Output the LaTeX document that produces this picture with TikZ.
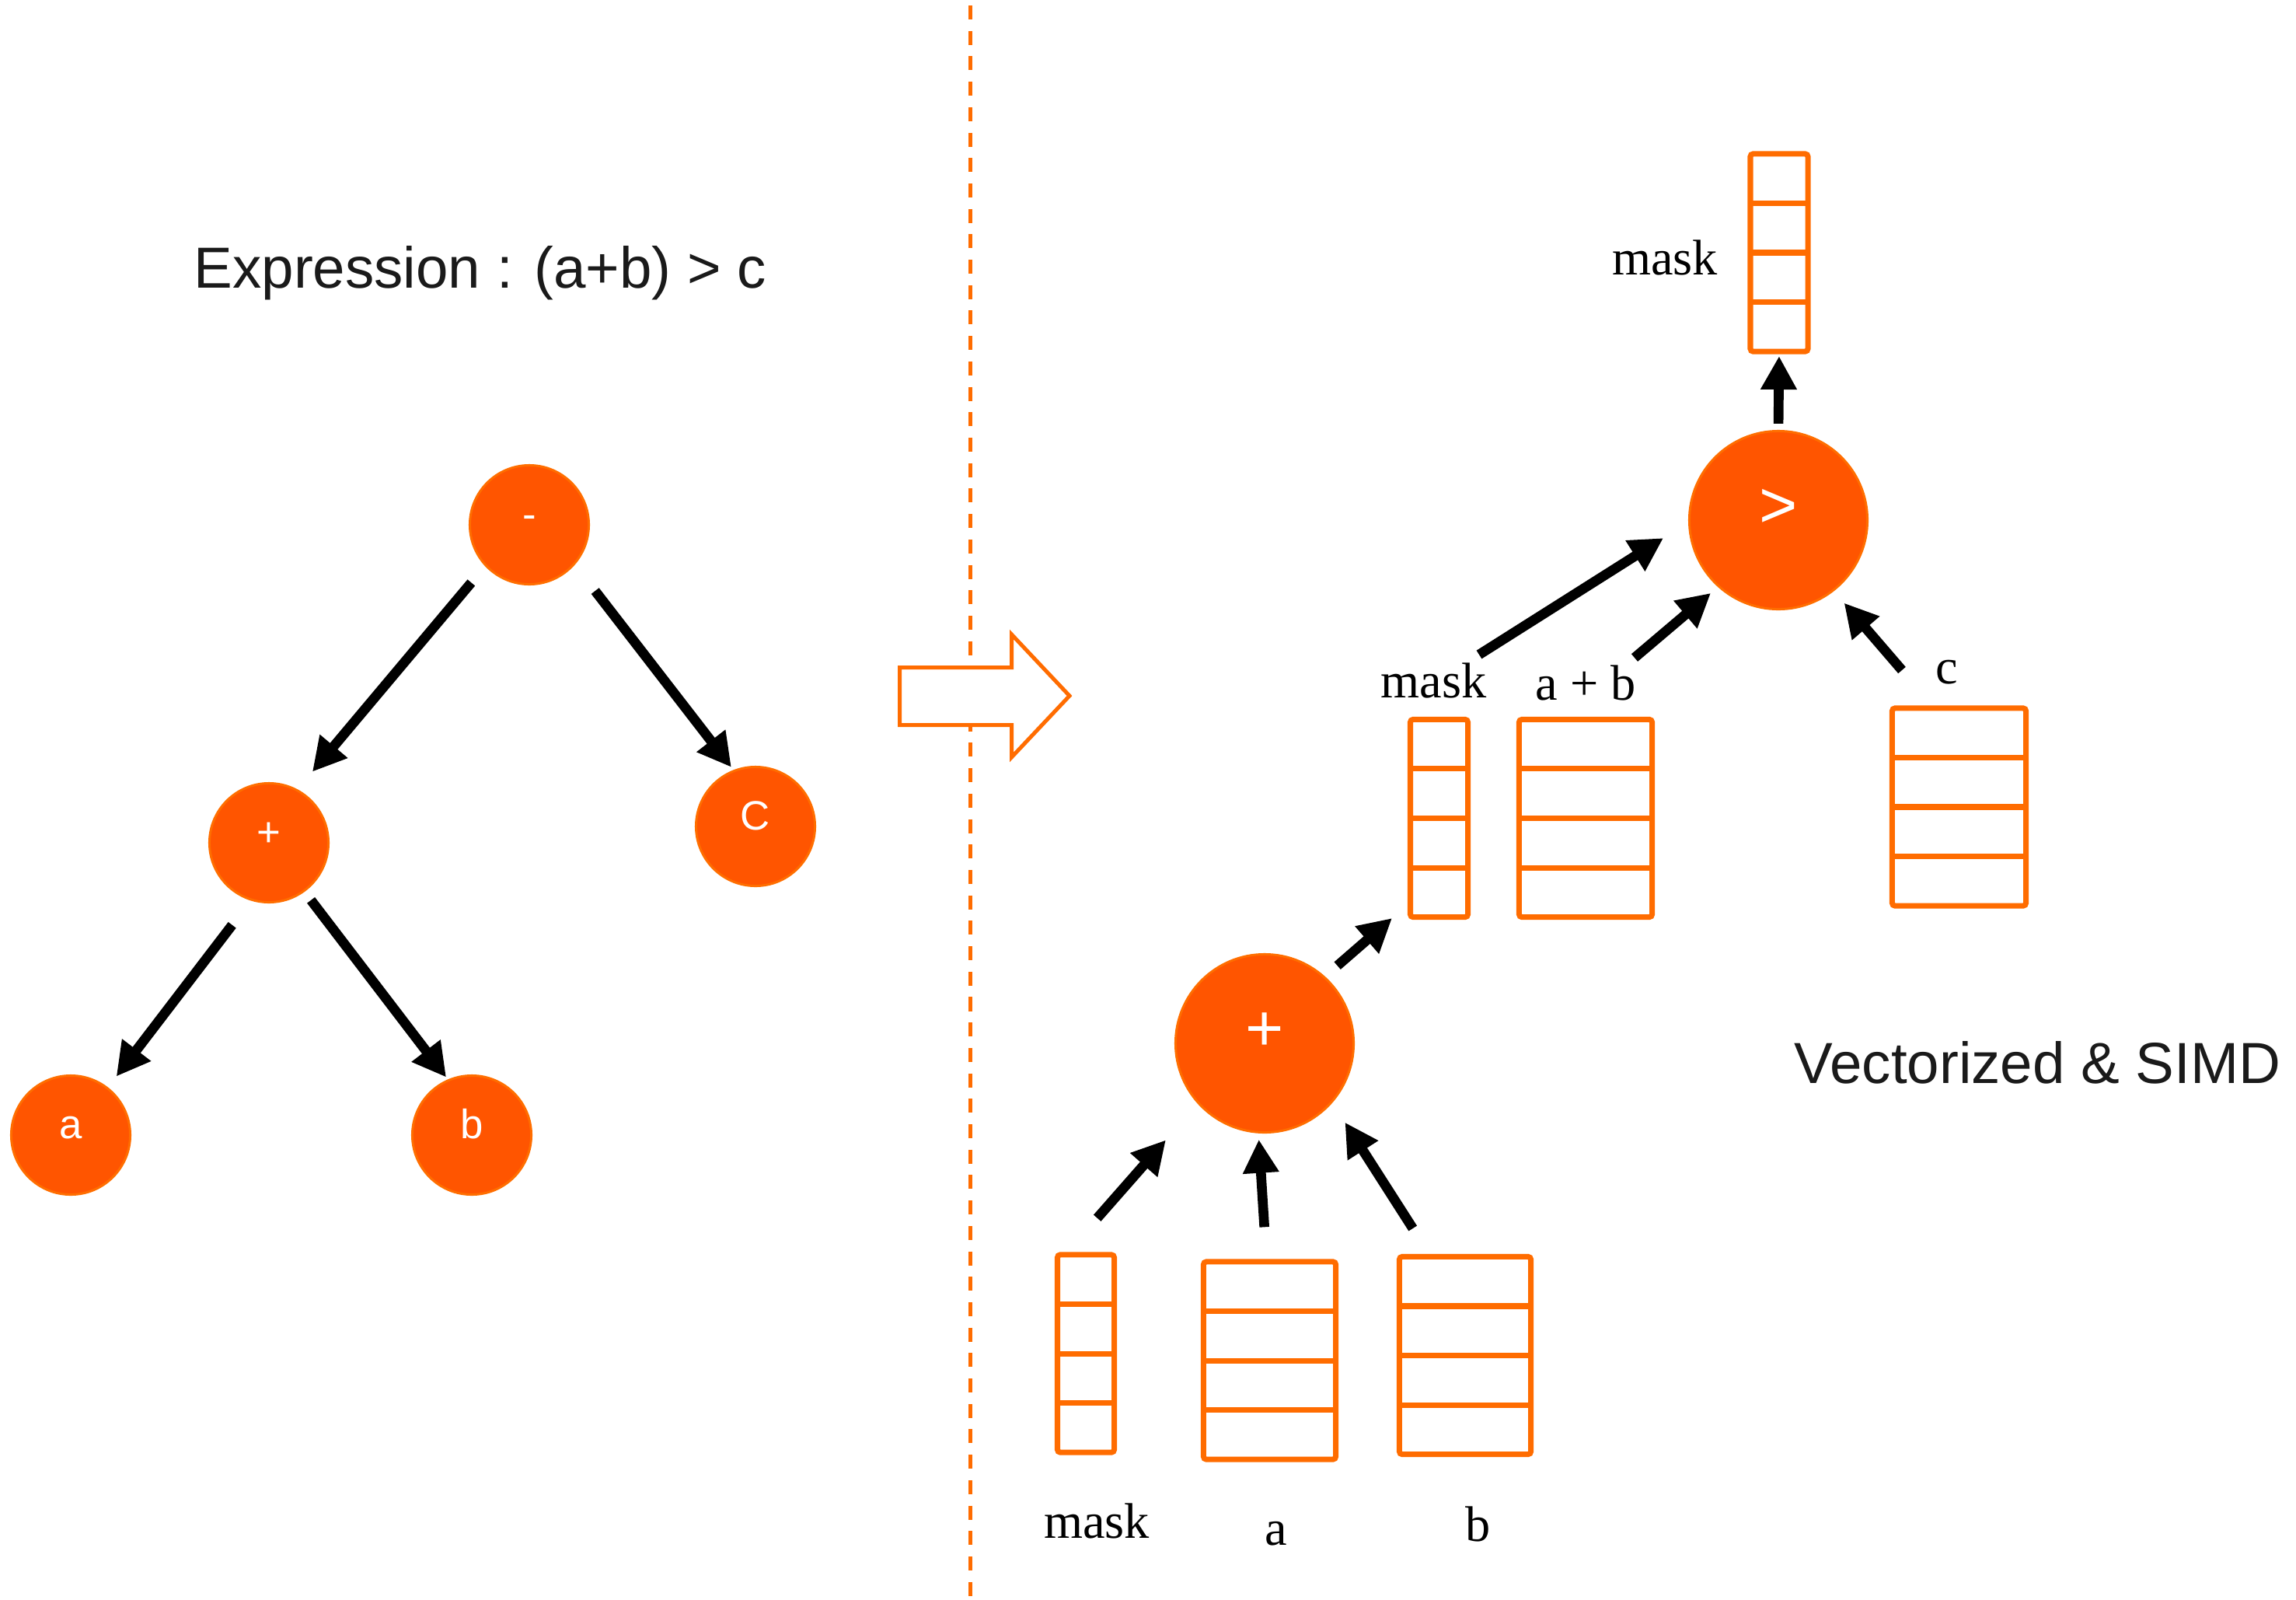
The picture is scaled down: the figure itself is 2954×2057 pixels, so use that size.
\documentclass[tikz,border=0pt]{standalone}
\usepackage{fontspec}
\newfontfamily\sansf{Liberation Sans}
\newfontfamily\seriff{Liberation Serif}
\usetikzlibrary{arrows.meta,calc}
\definecolor{circfill}{RGB}{255,85,0}
\definecolor{circline}{RGB}{255,110,0}
\definecolor{orng}{RGB}{255,108,0}
\definecolor{inkc}{RGB}{26,26,26}
\tikzset{
  opnode/.style={circle, fill=circfill, draw=circline, line width=0.85pt, inner sep=0pt, outer sep=0pt,
    text=white, font=\sansf\fontsize{15}{15}\selectfont, minimum size=1.53cm, text height=7pt, text depth=4.2pt},
  bigop/.style={opnode, minimum size=2.29cm, font=\sansf\fontsize{24}{24}\selectfont, text height=10pt, text depth=4.4pt},
  vecbox/.style={draw=orng, line width=2pt, rounded corners=1pt, inner sep=0pt, outer sep=0pt, minimum height=2.54cm},
  vecline/.style={draw=orng, line width=2pt},
  flow/.style={draw=black, line width=3.6pt, -{Triangle[length=12.2pt,width=12.5pt]}},
  lbl/.style={anchor=base, inner sep=0pt, font=\seriff\fontsize{18.3}{18.3}\selectfont},
  heading/.style={anchor=base west, inner sep=0pt, text=inkc, font=\sansf\fontsize{21.2}{21.2}\selectfont},
  divider/.style={draw=orng, line width=1.42pt, dash pattern=on 5.12pt off 4.18pt, dash phase=7.31pt},
  bigarrow/.style={draw=orng, line width=1.42pt, fill=white, line join=miter},
}
\newcommand\simdcol[3]{%
  \node[vecbox, minimum width=#3] (#1) at (#2) {};
  \foreach \f in {0.25,0.5,0.75}{\draw[vecline] ($(#1.north west)!\f!(#1.south west)$) -- ($(#1.north east)!\f!(#1.south east)$);}
}
\begin{document}
\begin{tikzpicture}[x=0.01cm, y=-0.01cm]
\useasboundingbox (0,0) rectangle (2954,2057);

% divider and transform arrow
\draw[divider] (1248.5,0) -- (1248.5,2057);
\draw[bigarrow] (1157.5,858.5) -- (1301.5,858.5) -- (1301.5,816) -- (1376,895) -- (1301.5,974) -- (1301.5,932.5) -- (1157.5,932.5) -- cycle;

% left: expression tree
\node[heading] (title) at (249,370) {Expression : (a+b) > c};
\node[opnode] (m) at (681,675) {-};
\node[opnode] (p) at (346,1084) {+};
\node[opnode] (cN) at (972,1063) {C};
\node[opnode] (la) at (91,1460) {a};
\node[opnode] (lb) at (607,1460) {b};

\draw[flow, shorten <=0.29cm, shorten >=0.31cm] (m.223) -- (p.62);
\draw[flow, shorten <=0.44cm, shorten >=0.06cm] (m.319) -- (cN.111);
\draw[flow, shorten <=0.41cm, shorten >=0.19cm] (p.253) -- (la.52);
\draw[flow, shorten <=0.15cm, shorten >=0.05cm] (p.306) -- (lb.113);

% right: vectorized evaluation
\node[bigop] (gt) at (2288,669) {>};
\node[bigop] (pl) at (1627,1342) {+};

\simdcol{tmask}{2289,325}{0.74cm}
\simdcol{mmask}{1851.5,1052.5}{0.74cm}
\simdcol{ab}{2040,1052.5}{1.71cm}
\simdcol{cc}{2520.5,1038}{1.72cm}
\simdcol{bmask}{1397,1741}{0.73cm}
\simdcol{ba}{1633.5,1750}{1.70cm}
\simdcol{bb}{1885,1743.5}{1.69cm}

\node[lbl] (tmasklbl) at (2142,353) {mask};
\node[lbl] (mmasklbl) at (1844.5,897) {mask};
\node[lbl] (ablbl) at (2040,900) {a + b};
\node[lbl] (clbl) at (2505,879) {c};
\node[lbl] (bmasklbl) at (1411,1978) {mask};
\node[lbl] (balbl) at (1642,1987) {a};
\node[lbl] (bblbl) at (1902,1982) {b};

\node[heading] (simd) at (2308,1393) {Vectorized \& SIMD};

\coordinate (s6) at (1903,842);
\coordinate (s7) at (2103,846);
\coordinate (s8) at (2447,862);
\coordinate (e9) at (1791,1181);
\coordinate (s10) at (1411.7,1566.7);
\coordinate (s11) at (1626.7,1578.3);
\coordinate (s12) at (1817.7,1580);

\draw[flow, shorten <=0.095cm, shorten >=0.06cm] (gt.north) -- (tmask.south);
\draw[flow, shorten >=0.395cm] (s6) -- (gt.181);
\draw[flow, shorten >=0.135cm] (s7) -- (gt.228);
\draw[flow, shorten >=0.215cm] (s8) -- (gt.308);
\draw[flow, shorten <=0.225cm] (pl.48) -- (e9);
\draw[flow, shorten >=0.635cm] (s10) -- (pl.222);
\draw[flow, shorten >=0.095cm] (s11) -- (pl.266);
\draw[flow, shorten >=0.315cm] (s12) -- (pl.319);
\end{tikzpicture}
\end{document}
